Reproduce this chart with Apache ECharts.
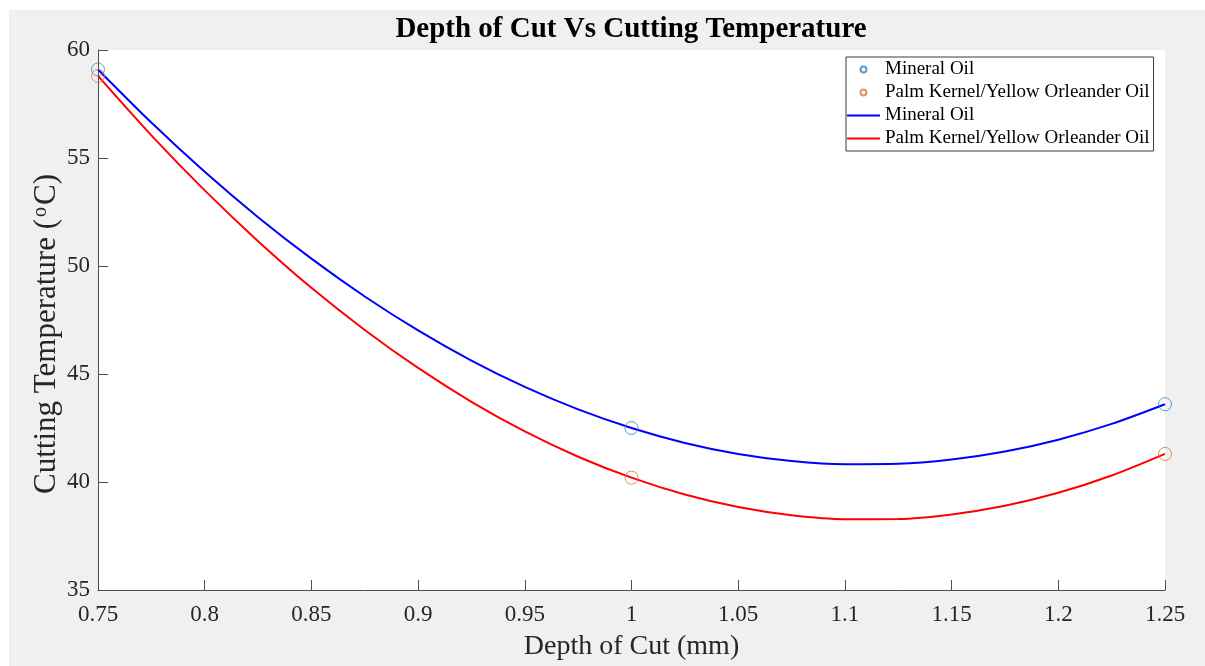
<!DOCTYPE html>
<html>
<head>
<meta charset="utf-8">
<script src="https://cdn.jsdelivr.net/npm/echarts@6/dist/echarts.min.js"></script>
<style>
html,body{margin:0;padding:0;background:#fff;}
#chart{width:1205px;height:666px;}
</style>
</head>
<body>
<div id="chart"></div>
<script>
// ---- data ----
var titleText = 'Depth of Cut Vs Cutting Temperature';
var xName = 'Depth of Cut (mm)';
var seriesNames = ['Mineral Oil', 'Palm Kernel/Yellow Orleander Oil'];

// measured points (circles)
var xPoints = [0.75, 1.0, 1.25];
var mineralPoints = [59.1, 42.5, 43.6];
var palmPoints = [58.8, 40.2, 41.3];

// fitted curves, values
var xCurve = [0.75, 0.775, 0.8, 0.825, 0.85, 0.875, 0.9, 0.925, 0.95, 0.975, 1.0,
              1.025, 1.05, 1.075, 1.1, 1.125, 1.15, 1.175, 1.2, 1.225, 1.25];
var mineralCurve = [59.1, 56.64, 54.36, 52.26, 50.34, 48.59, 47.02, 45.62, 44.40, 43.36, 42.5,
                    41.81, 41.30, 40.97, 40.82, 40.84, 41.04, 41.41, 41.96, 42.69, 43.6];
var palmCurve = [58.8, 56.05, 53.50, 51.15, 48.99, 47.04, 45.28, 43.71, 42.34, 41.17, 40.2,
                 39.42, 38.84, 38.46, 38.28, 38.29, 38.50, 38.90, 39.50, 40.30, 41.3];

var xTicks = ['0.75', '0.8', '0.85', '0.9', '0.95', '1', '1.05', '1.1', '1.15', '1.2', '1.25'];
var yTicks = ['35', '40', '45', '50', '55', '60'];

// ---- build ----
function pairs(xs, ys) { return xs.map(function (x, i) { return [x, ys[i]]; }); }
var SERIF = '"Liberation Serif", "DejaVu Serif", serif';
var LINE_SUFFIX = ' ';

var chart = echarts.init(document.getElementById('chart'), null, {renderer: 'canvas'});
var option = {
  backgroundColor: '#ffffff',
  animation: false,
  graphic: [{
    type: 'rect', z: -100, silent: true,
    shape: {x: 9, y: 10, width: 1196, height: 656},
    style: {fill: '#f0f0f0'}
  }],
  title: {
    text: titleText,
    left: 631, top: 15, padding: 0, textAlign: 'center',
    textStyle: {fontFamily: SERIF, fontSize: 29, fontWeight: 'bold', color: '#000'}
  },
  grid: {
    left: 98, right: 40, top: 50, bottom: 69,
    show: true, backgroundColor: '#ffffff', borderWidth: 0
  },
  legend: {
    orient: 'vertical',
    left: 846, top: 57,
    padding: [3, 4, 3, 0],
    itemGap: 4,
    itemWidth: 33, itemHeight: 6,
    backgroundColor: '#ffffff',
    borderColor: '#3a3a3a', borderWidth: 1,
    textStyle: {fontFamily: SERIF, fontSize: 19, lineHeight: 19, color: '#000'},
    formatter: function (n) { return n.trim(); },
    data: [
      {name: seriesNames[0]},
      {name: seriesNames[1]},
      {name: seriesNames[0] + LINE_SUFFIX, itemStyle: {opacity: 0}},
      {name: seriesNames[1] + LINE_SUFFIX, itemStyle: {opacity: 0}}
    ]
  },
  xAxis: {
    type: 'value', min: 0.75, max: 1.25, interval: 0.05,
    name: xName, nameLocation: 'middle', nameGap: 43,
    nameTextStyle: {fontFamily: SERIF, fontSize: 28, color: '#262626'},
    axisLine: {show: true, lineStyle: {color: '#4d4d4d', width: 1}},
    axisTick: {show: true, inside: true, length: 10, lineStyle: {color: '#4d4d4d'}},
    axisLabel: {
      fontFamily: SERIF, fontSize: 23, color: '#262626', margin: 13,
      formatter: function (v) {
        var s = String(+v.toFixed(2));
        return xTicks.indexOf(s) >= 0 ? s : '';
      }
    },
    splitLine: {show: false}
  },
  yAxis: {
    type: 'value', min: 35, max: 60, interval: 5,
    name: 'Cutting Temperature ({sup|o}C)', nameLocation: 'middle', nameGap: 36, nameRotate: 90,
    nameMoveOverlap: false,
    nameTextStyle: {
      fontFamily: SERIF, fontSize: 31, color: '#262626',
      padding: [0, 28, 0, 0],
      rich: {sup: {fontFamily: SERIF, fontSize: 20, color: '#262626', verticalAlign: 'top', lineHeight: 31, padding: [0, 2, 0, 2]}}
    },
    axisLine: {show: true, lineStyle: {color: '#4d4d4d', width: 1}},
    axisTick: {show: true, inside: true, length: 10, lineStyle: {color: '#4d4d4d'}},
    axisLabel: {
      fontFamily: SERIF, fontSize: 23, color: '#262626', margin: 8,
      formatter: function (v) { var s = String(v); return yTicks.indexOf(s) >= 0 ? s : ''; }
    },
    splitLine: {show: false}
  },
  series: [
    {
      name: seriesNames[0], type: 'scatter', symbol: 'circle', symbolSize: 13, z: 3,
      itemStyle: {color: 'rgba(255,255,255,0)', borderColor: '#2f86c6', borderWidth: 1},
      data: pairs(xPoints, mineralPoints)
    },
    {
      name: seriesNames[1], type: 'scatter', symbol: 'circle', symbolSize: 13, z: 3,
      itemStyle: {color: 'rgba(255,255,255,0)', borderColor: '#de7045', borderWidth: 1},
      data: pairs(xPoints, palmPoints)
    },
    {
      name: seriesNames[0] + LINE_SUFFIX, type: 'line', symbol: 'none', smooth: 0.3, z: 2,
      color: '#0000ff',
      lineStyle: {color: '#0000ff', width: 2},
      data: pairs(xCurve, mineralCurve)
    },
    {
      name: seriesNames[1] + LINE_SUFFIX, type: 'line', symbol: 'none', smooth: 0.3, z: 2,
      color: '#ff0000',
      lineStyle: {color: '#ff0000', width: 2},
      data: pairs(xCurve, palmCurve)
    }
  ]
};
chart.setOption(option);
</script>
</body>
</html>
